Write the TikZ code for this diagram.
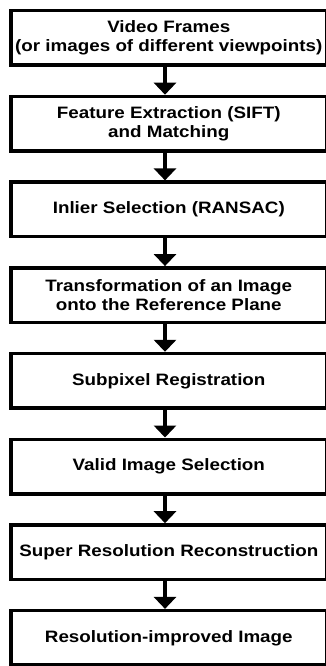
\documentclass[tikz,border=0pt]{standalone}
\usepackage{fontspec}
\setmainfont[FakeStretch=1.14]{Liberation Sans}
\usetikzlibrary{arrows.meta}
\begin{document}
\begin{tikzpicture}[x=1pt,y=-1pt,
  stepbox/.style={draw, line width=3.5pt, minimum width=316pt, minimum height=54.5pt,
    inner sep=0pt, align=center, font=\fontsize{16.5}{19.5}\selectfont\bfseries},
  flow/.style={line width=4pt, -{Triangle[width=22pt,length=12pt]}}]
\useasboundingbox (0,0) rectangle (325,666);
\node[stepbox] (b1) at (168.8,38.0) {Video Frames\\(or images of different viewpoints)};
\node[stepbox] (b2) at (168.8,123.7) {Feature Extraction (SIFT)\\and Matching};
\node[stepbox] (b3) at (168.8,209.4) {Inlier Selection (RANSAC)};
\node[stepbox] (b4) at (168.8,295.1) {Transformation of an Image\\onto the Reference Plane};
\node[stepbox] (b5) at (168.8,380.8) {Subpixel Registration};
\node[stepbox] (b6) at (168.8,466.5) {Valid Image Selection};
\node[stepbox] (b7) at (168.8,552.2) {Super Resolution Reconstruction};
\node[stepbox] (b8) at (168.8,637.9) {Resolution-improved Image};
\foreach \a/\b in {b1/b2,b2/b3,b3/b4,b4/b5,b5/b6,b6/b7,b7/b8}
  \draw[flow] ([xshift=-3.8pt]\a.south) -- ([xshift=-3.8pt]\b.north);
\end{tikzpicture}
\end{document}
